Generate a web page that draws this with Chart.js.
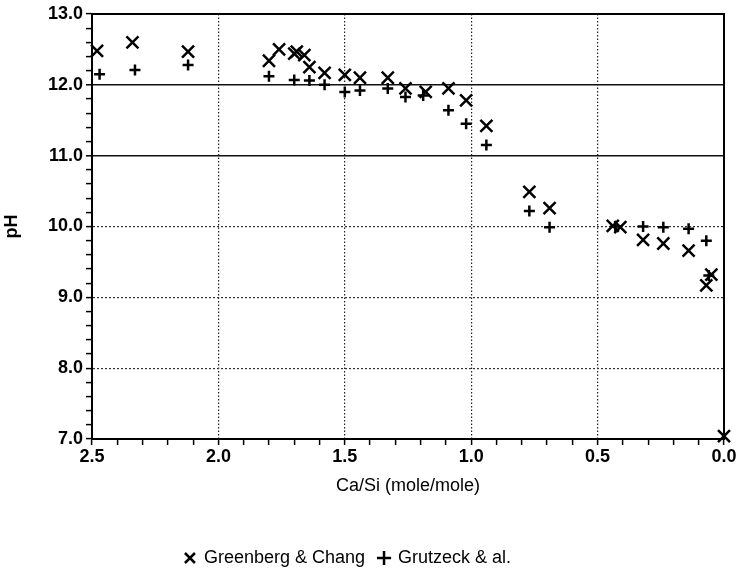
<!DOCTYPE html>
<html>
<head>
<meta charset="utf-8">
<script src="https://cdn.jsdelivr.net/npm/chart.js@4/dist/chart.umd.min.js"></script>
<style>
html,body{margin:0;padding:0;background:#fff;}
#wrap{width:739px;height:570px;position:relative;}
</style>
</head>
<body>
<div id="wrap"><canvas id="c" width="739" height="570"></canvas></div>
<script>
// Ca/Si ratio (mole/mole) and pH values
const greenbergX  = [2.48, 2.34, 2.12, 1.80, 1.76, 1.70, 1.69, 1.66, 1.64, 1.58, 1.50, 1.44, 1.33, 1.26, 1.18, 1.09, 1.02, 0.94, 0.77, 0.69, 0.44, 0.41, 0.32, 0.24, 0.14, 0.07, 0.05, 0.00];
const greenbergPH = [12.48, 12.60, 12.47, 12.34, 12.50, 12.44, 12.47, 12.42, 12.25, 12.17, 12.14, 12.10, 12.10, 11.95, 11.90, 11.95, 11.78, 11.42, 10.49, 10.26, 10.01, 9.99, 9.81, 9.76, 9.66, 9.17, 9.32, 7.04];
const grutzeckX   = [2.47, 2.33, 2.12, 1.80, 1.70, 1.64, 1.58, 1.50, 1.44, 1.33, 1.26, 1.19, 1.09, 1.02, 0.94, 0.77, 0.69, 0.43, 0.32, 0.24, 0.14, 0.07, 0.06];
const grutzeckPH  = [12.15, 12.21, 12.28, 12.12, 12.07, 12.06, 12.00, 11.90, 11.92, 11.95, 11.83, 11.85, 11.64, 11.45, 11.15, 10.22, 9.99, 10.00, 10.00, 9.99, 9.97, 9.80, 9.31];
const seriesNames = ['Greenberg & Chang', 'Grutzeck & al.'];
const xTickLabels = ['2.5', '2.0', '1.5', '1.0', '0.5', '0.0'];
const yTickLabels = ['7.0', '8.0', '9.0', '10.0', '11.0', '12.0', '13.0'];
const xTitle = 'Ca/Si (mole/mole)';
const yTitle = 'pH';

const FONT = "'Liberation Sans', Arial, Helvetica, sans-serif";
const toPts = (xs, ys) => xs.map((x, i) => ({x: x, y: ys[i]}));
const near = (v, t) => Math.abs(v - t) < 1e-6;
const isMajorX = v => xTickLabels.some(l => near(v, parseFloat(l)));
const isMajorY = v => yTickLabels.some(l => near(v, parseFloat(l)));

const frame = {
  id: 'frame',
  afterLayout(chart) {
    if (chart.legend) { chart.legend.left -= 14; chart.legend.right -= 14; }
  },
  afterDatasetsDraw(chart) {
    const a = chart.chartArea, ctx = chart.ctx;
    ctx.save();
    ctx.strokeStyle = '#000';
    ctx.lineWidth = 2;
    ctx.strokeRect(a.left, a.top, a.right - a.left, a.bottom - a.top);
    ctx.restore();
  }
};

new Chart(document.getElementById('c'), {
  type: 'scatter',
  data: {
    datasets: [
      {
        label: seriesNames[0],
        data: toPts(greenbergX, greenbergPH),
        pointStyle: 'crossRot',
        pointRadius: 8.5,
        borderColor: '#000',
        backgroundColor: '#000',
        borderWidth: 2.5,
        clip: false
      },
      {
        label: seriesNames[1],
        data: toPts(grutzeckX, grutzeckPH),
        pointStyle: 'cross',
        pointRadius: 5.5,
        borderColor: '#000',
        backgroundColor: '#000',
        borderWidth: 2.5,
        clip: false
      }
    ]
  },
  options: {
    responsive: false,
    animation: false,
    devicePixelRatio: 1,
    layout: {padding: {top: 14, right: 15, bottom: -7, left: 0}},
    plugins: {
      tooltip: {enabled: false},
      legend: {
        position: 'bottom',
        labels: {
          usePointStyle: true,
          boxWidth: 10,
          boxHeight: 10,
          padding: 14,
          color: '#000',
          font: {family: FONT, size: 18}
        }
      }
    },
    scales: {
      x: {
        type: 'linear',
        reverse: true,
        min: 0,
        max: 2.5,
        afterBuildTicks(scale) {
          const t = [];
          for (let i = 0; i <= 25; i++) t.push({value: i / 10});
          scale.ticks = t;
        },
        afterFit(scale) { scale.height = 96; },
        ticks: {
          autoSkip: false,
          maxRotation: 0,
          padding: 1,
          color: '#000',
          font: {family: FONT, size: 18, weight: 'bold'},
          callback: v => {
            const l = xTickLabels.find(s => near(v, parseFloat(s)));
            return l === undefined ? '' : l;
          }
        },
        grid: {
          color: ctx => (ctx.tick && isMajorX(ctx.tick.value) && !near(ctx.tick.value, 0) && !near(ctx.tick.value, 2.5)) ? '#222' : 'rgba(0,0,0,0)',
          lineWidth: 1.2,
          tickColor: '#000',
          tickLength: 6,
          tickWidth: 1.5
        },
        border: {display: true, color: '#000', width: 2, dash: [1.5, 2]},
        title: {
          display: true,
          text: xTitle,
          color: '#000',
          font: {family: FONT, size: 18},
          padding: {top: 0, bottom: 38}
        }
      },
      y: {
        type: 'linear',
        min: 7,
        max: 13,
        afterBuildTicks(scale) {
          const t = [];
          for (let i = 0; i <= 30; i++) t.push({value: 7 + i * 0.2});
          scale.ticks = t;
        },
        afterFit(scale) { scale.width = 92; },
        ticks: {
          autoSkip: false,
          padding: 3,
          color: '#000',
          font: {family: FONT, size: 18, weight: 'bold'},
          callback: v => {
            const l = yTickLabels.find(s => near(v, parseFloat(s)));
            return l === undefined ? '' : l;
          }
        },
        grid: {
          color: ctx => {
            if (!ctx.tick) return 'rgba(0,0,0,0)';
            const v = ctx.tick.value;
            if (!isMajorY(v) || near(v, 7) || near(v, 13)) return 'rgba(0,0,0,0)';
            return (near(v, 11) || near(v, 12)) ? '#111' : '#333';
          },
          lineWidth: ctx => (ctx.tick && (near(ctx.tick.value, 11) || near(ctx.tick.value, 12))) ? 1.6 : 1.2,
          tickColor: '#000',
          tickLength: 6,
          tickWidth: 1.5
        },
        border: {
          display: true, color: '#000', width: 2,
          dash: ctx => (ctx.tick && (near(ctx.tick.value, 11) || near(ctx.tick.value, 12))) ? [] : [2, 2]
        },
        title: {
          display: true,
          text: yTitle,
          color: '#000',
          font: {family: FONT, size: 18, weight: 'bold'},
          padding: {top: 1, bottom: 0}
        }
      }
    }
  },
  plugins: [frame]
});
</script>
</body>
</html>
